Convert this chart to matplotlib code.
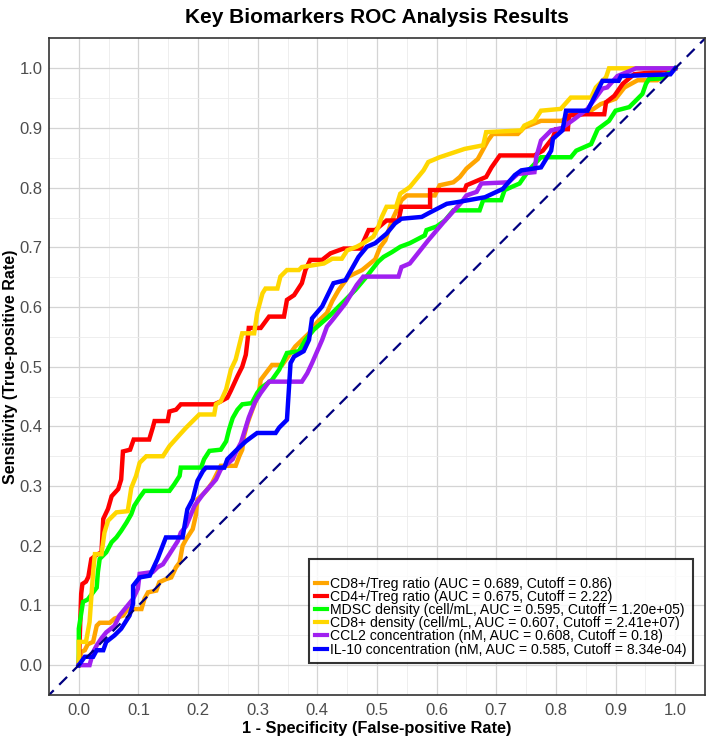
import matplotlib
matplotlib.use("Agg")
from matplotlib import pyplot as plt
import numpy as np

plt.rcParams['font.family'] = ['Liberation Sans', 'DejaVu Sans']

# ROC points (FPR, TPR)
orange_x = [0, 0.004, 0.01, 0.015, 0.024, 0.03, 0.035, 0.052, 0.06, 0.074, 0.082, 0.105, 0.11, 0.116, 0.13, 0.135, 0.146, 0.155, 0.163, 0.169, 0.174, 0.18, 0.191, 0.196, 0.199, 0.208, 0.216, 0.224, 0.238, 0.263, 0.269, 0.274, 0.277, 0.283, 0.291, 0.302, 0.305, 0.324, 0.341, 0.363, 0.386, 0.40, 0.416, 0.425, 0.436, 0.452, 0.475, 0.497, 0.505, 0.514, 0.525, 0.541, 0.55, 0.597, 0.605, 0.628, 0.639, 0.65, 0.669, 0.686, 0.694, 0.736, 0.747, 0.775, 0.81, 0.83, 0.86, 0.875, 0.9, 0.915, 0.937, 0.97, 1.0]
orange_y = [0, 0.022, 0.025, 0.035, 0.039, 0.066, 0.071, 0.071, 0.078, 0.083, 0.094, 0.094, 0.111, 0.122, 0.125, 0.139, 0.144, 0.147, 0.164, 0.172, 0.2, 0.211, 0.228, 0.25, 0.278, 0.286, 0.295, 0.306, 0.334, 0.334, 0.35, 0.361, 0.384, 0.406, 0.428, 0.456, 0.478, 0.503, 0.503, 0.534, 0.556, 0.575, 0.59, 0.61, 0.629, 0.651, 0.662, 0.68, 0.70, 0.712, 0.745, 0.779, 0.787, 0.787, 0.804, 0.809, 0.818, 0.832, 0.848, 0.879, 0.89, 0.89, 0.901, 0.912, 0.912, 0.925, 0.93, 0.94, 0.949, 0.968, 0.98, 0.98, 1.0]

red_x = [0, 0.004, 0.006, 0.012, 0.016, 0.021, 0.03, 0.038, 0.041, 0.049, 0.055, 0.066, 0.071, 0.074, 0.086, 0.092, 0.118, 0.124, 0.127, 0.149, 0.152, 0.163, 0.171, 0.227, 0.238, 0.249, 0.255, 0.266, 0.274, 0.28, 0.283, 0.285, 0.305, 0.319, 0.344, 0.349, 0.361, 0.374, 0.38, 0.388, 0.408, 0.422, 0.444, 0.472, 0.486, 0.497, 0.516, 0.536, 0.541, 0.589, 0.589, 0.647, 0.65, 0.683, 0.692, 0.706, 0.764, 0.778, 0.795, 0.8, 0.82, 0.822, 0.848, 0.881, 0.884, 0.898, 0.912, 0.931, 0.959, 1.0]
red_y = [0, 0.12, 0.136, 0.14, 0.148, 0.178, 0.185, 0.189, 0.245, 0.262, 0.283, 0.295, 0.311, 0.358, 0.361, 0.378, 0.378, 0.398, 0.409, 0.409, 0.425, 0.428, 0.437, 0.437, 0.442, 0.448, 0.46, 0.484, 0.5, 0.52, 0.545, 0.565, 0.565, 0.584, 0.584, 0.612, 0.62, 0.64, 0.662, 0.679, 0.679, 0.69, 0.698, 0.698, 0.729, 0.729, 0.745, 0.745, 0.768, 0.768, 0.796, 0.796, 0.804, 0.818, 0.834, 0.854, 0.854, 0.862, 0.884, 0.898, 0.898, 0.921, 0.923, 0.923, 0.943, 0.954, 0.974, 0.99, 0.993, 1.0]

green_x = [0, 0.0, 0.007, 0.015, 0.024, 0.03, 0.032, 0.035, 0.046, 0.055, 0.063, 0.071, 0.08, 0.088, 0.093, 0.102, 0.11, 0.152, 0.16, 0.169, 0.171, 0.205, 0.21, 0.219, 0.238, 0.247, 0.252, 0.258, 0.266, 0.274, 0.29, 0.299, 0.305, 0.324, 0.336, 0.349, 0.369, 0.38, 0.394, 0.419, 0.43, 0.447, 0.464, 0.48, 0.491, 0.502, 0.511, 0.525, 0.539, 0.555, 0.58, 0.583, 0.6, 0.614, 0.628, 0.672, 0.678, 0.708, 0.714, 0.739, 0.755, 0.775, 0.825, 0.834, 0.859, 0.87, 0.889, 0.9, 0.923, 0.945, 0.951, 0.956, 0.975, 0.995, 1.0]
green_y = [0, 0.061, 0.106, 0.11, 0.122, 0.13, 0.156, 0.178, 0.189, 0.206, 0.214, 0.225, 0.239, 0.253, 0.267, 0.281, 0.292, 0.292, 0.303, 0.317, 0.331, 0.331, 0.345, 0.359, 0.361, 0.375, 0.395, 0.414, 0.428, 0.437, 0.439, 0.456, 0.464, 0.478, 0.495, 0.523, 0.526, 0.545, 0.562, 0.584, 0.595, 0.612, 0.629, 0.648, 0.662, 0.676, 0.684, 0.692, 0.701, 0.707, 0.72, 0.729, 0.735, 0.745, 0.762, 0.762, 0.779, 0.779, 0.796, 0.807, 0.83, 0.851, 0.851, 0.862, 0.873, 0.898, 0.912, 0.929, 0.935, 0.957, 0.974, 0.982, 0.983, 0.996, 1.0]

yellow_x = [0, 0.0, 0.012, 0.018, 0.024, 0.027, 0.038, 0.043, 0.049, 0.063, 0.082, 0.088, 0.096, 0.102, 0.113, 0.141, 0.152, 0.169, 0.18, 0.196, 0.202, 0.227, 0.23, 0.238, 0.247, 0.255, 0.263, 0.274, 0.294, 0.299, 0.308, 0.313, 0.333, 0.338, 0.349, 0.369, 0.374, 0.411, 0.425, 0.441, 0.45, 0.466, 0.477, 0.494, 0.502, 0.508, 0.516, 0.532, 0.539, 0.555, 0.578, 0.586, 0.605, 0.647, 0.678, 0.683, 0.742, 0.747, 0.764, 0.775, 0.808, 0.825, 0.859, 0.867, 0.884, 0.889, 1.0]
yellow_y = [0, 0.039, 0.039, 0.072, 0.156, 0.186, 0.186, 0.222, 0.242, 0.256, 0.258, 0.297, 0.317, 0.339, 0.35, 0.35, 0.367, 0.386, 0.398, 0.414, 0.42, 0.42, 0.437, 0.442, 0.462, 0.495, 0.512, 0.556, 0.556, 0.59, 0.623, 0.631, 0.631, 0.651, 0.662, 0.662, 0.667, 0.673, 0.681, 0.681, 0.695, 0.701, 0.707, 0.718, 0.734, 0.751, 0.768, 0.768, 0.79, 0.801, 0.829, 0.843, 0.851, 0.865, 0.871, 0.893, 0.896, 0.904, 0.912, 0.929, 0.932, 0.951, 0.951, 0.968, 0.985, 1.0, 1.0]

purple_x = [0, 0.018, 0.024, 0.03, 0.038, 0.046, 0.06, 0.068, 0.077, 0.091, 0.099, 0.102, 0.124, 0.132, 0.141, 0.152, 0.166, 0.171, 0.18, 0.194, 0.208, 0.23, 0.238, 0.258, 0.263, 0.272, 0.277, 0.285, 0.295, 0.305, 0.319, 0.374, 0.383, 0.391, 0.408, 0.416, 0.425, 0.447, 0.466, 0.477, 0.536, 0.541, 0.555, 0.586, 0.614, 0.642, 0.65, 0.667, 0.675, 0.72, 0.736, 0.764, 0.767, 0.775, 0.792, 0.81, 0.831, 0.853, 0.861, 0.878, 0.886, 0.903, 0.925, 0.934, 1.0]
purple_y = [0, 0, 0.022, 0.033, 0.045, 0.055, 0.066, 0.083, 0.094, 0.111, 0.128, 0.153, 0.156, 0.164, 0.169, 0.186, 0.208, 0.222, 0.233, 0.267, 0.286, 0.311, 0.328, 0.345, 0.356, 0.373, 0.389, 0.415, 0.44, 0.456, 0.475, 0.475, 0.489, 0.506, 0.545, 0.567, 0.578, 0.606, 0.637, 0.651, 0.651, 0.667, 0.673, 0.712, 0.745, 0.776, 0.787, 0.793, 0.807, 0.809, 0.823, 0.826, 0.851, 0.879, 0.896, 0.9, 0.915, 0.932, 0.943, 0.966, 0.968, 0.987, 0.996, 1.0, 1.0]

blue_x = [0, 0.01, 0.024, 0.03, 0.041, 0.046, 0.06, 0.071, 0.085, 0.091, 0.091, 0.102, 0.119, 0.132, 0.146, 0.174, 0.182, 0.191, 0.199, 0.208, 0.213, 0.244, 0.249, 0.263, 0.28, 0.288, 0.299, 0.33, 0.336, 0.349, 0.355, 0.361, 0.377, 0.386, 0.391, 0.408, 0.427, 0.447, 0.469, 0.483, 0.497, 0.516, 0.53, 0.541, 0.575, 0.586, 0.617, 0.636, 0.681, 0.711, 0.731, 0.742, 0.775, 0.792, 0.795, 0.811, 0.817, 0.853, 0.87, 0.878, 0.905, 0.909, 0.992, 1.0]
blue_y = [0, 0.014, 0.014, 0.025, 0.025, 0.039, 0.05, 0.061, 0.083, 0.103, 0.133, 0.147, 0.15, 0.178, 0.214, 0.214, 0.261, 0.278, 0.309, 0.325, 0.331, 0.331, 0.345, 0.359, 0.375, 0.381, 0.389, 0.389, 0.398, 0.411, 0.506, 0.517, 0.526, 0.545, 0.581, 0.601, 0.64, 0.645, 0.684, 0.701, 0.707, 0.723, 0.74, 0.748, 0.751, 0.757, 0.773, 0.776, 0.784, 0.798, 0.821, 0.829, 0.834, 0.862, 0.882, 0.896, 0.929, 0.929, 0.963, 0.979, 0.979, 0.987, 0.99, 1.0]

labels = [
    "CD8+/Treg ratio (AUC = 0.689, Cutoff = 0.86)",
    "CD4+/Treg ratio (AUC = 0.675, Cutoff = 2.22)",
    "MDSC density (cell/mL, AUC = 0.595, Cutoff = 1.20e+05)",
    "CD8+ density (cell/mL, AUC = 0.607, Cutoff = 2.41e+07)",
    "CCL2 concentration (nM, AUC = 0.608, Cutoff = 0.18)",
    "IL-10 concentration (nM, AUC = 0.585, Cutoff = 8.34e-04)",
]
colors = ["#FFA500", "#FF0000", "#00FF00", "#FFD700", "#A020F0", "#0000FF"]
curves = [(orange_x, orange_y), (red_x, red_y), (green_x, green_y),
          (yellow_x, yellow_y), (purple_x, purple_y), (blue_x, blue_y)]

fig = plt.figure(figsize=(7.08, 7.37), dpi=100)
ax = fig.add_axes([0.0692, 0.057, 0.9266, 0.8908])

for (cx, cy), c, lab in zip(curves, colors, labels):
    ax.plot(cx, cy, color=c, linewidth=3.2, label=lab, solid_joinstyle="miter")

ax.plot([-0.1, 1.1], [-0.1, 1.1], color="#000080", linewidth=1.6,
        linestyle=(0, (5, 3.5)))

ax.set_xlim(-0.05, 1.05)
ax.set_ylim(-0.05, 1.05)
ticks = np.arange(0, 1.01, 0.1)
ax.set_xticks(ticks)
ax.set_yticks(ticks)
ax.set_xticks(np.arange(0.05, 1.0, 0.1), minor=True)
ax.set_yticks(np.arange(0.05, 1.0, 0.1), minor=True)
ax.set_xticklabels(["%.1f" % t for t in ticks])
ax.set_yticklabels(["%.1f" % t for t in ticks])
ax.tick_params(which="both", length=0, labelsize=12, labelcolor="#4D4D4D")
ax.tick_params(axis="x", pad=6)
ax.tick_params(axis="y", pad=4.5)
ax.grid(which="major", color="#D4D4D4", linewidth=0.9)
ax.grid(which="minor", color="#EBEBEB", linewidth=0.6)
ax.set_axisbelow(True)
for s in ax.spines.values():
    s.set_color("#333333")
    s.set_linewidth(1.2)

ax.set_xlabel("1 - Specificity (False-positive Rate)", fontsize=11.8, fontweight="bold", labelpad=2)
ax.set_ylabel("Sensitivity (True-positive Rate)", fontsize=11.5, fontweight="bold", labelpad=1)
ax.set_title("Key Biomarkers ROC Analysis Results", fontsize=15, fontweight="bold", pad=11)

leg = ax.legend(loc="lower right", bbox_to_anchor=(0.982, 0.049), borderaxespad=0,
                title=" ", fontsize=10.1, title_fontsize=9.5, frameon=True, fancybox=False,
                handlelength=0.85, handletextpad=0.25, labelspacing=-0.06,
                borderpad=0.45)
leg.get_frame().set_edgecolor("black")
leg.get_frame().set_linewidth(1.5)
for line in leg.get_lines():
    line.set_linewidth(3)

plt.savefig("out.png", dpi=100)
